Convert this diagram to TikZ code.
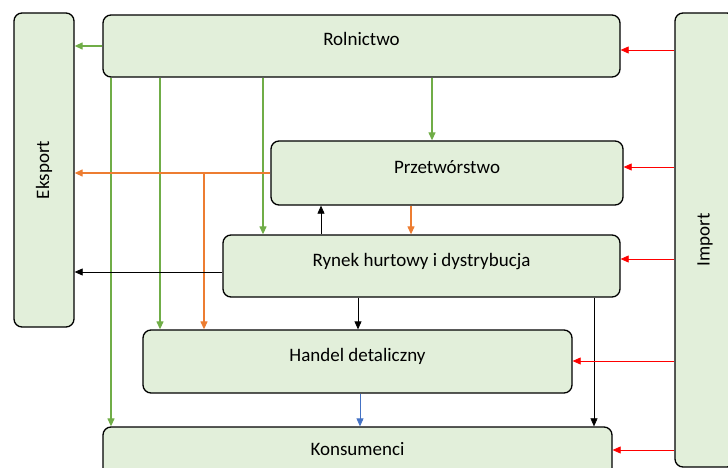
\documentclass[tikz,border=0pt]{standalone}
\usepackage{fontspec}
\setmainfont{Carlito}
\usepackage{tikz}
\usetikzlibrary{shapes,arrows.meta}
\definecolor{boxfill}{HTML}{E2EFDA}
\definecolor{agri}{HTML}{70AD47}
\definecolor{proc}{HTML}{ED7D31}
\definecolor{retail}{HTML}{4472C4}
\definecolor{impred}{HTML}{FF0000}
\tikzstyle{sector} = [rectangle, draw, fill=boxfill, line width=1.3pt, rounded corners=8pt, font=\fontsize{19}{22}\selectfont, text height=7pt, text depth=7pt]
\tikzstyle{trade} = [rectangle, draw, fill=boxfill, line width=1.3pt, rounded corners=8pt, font=\fontsize{19}{22}\selectfont, rotate=90]
\tikzstyle{agriflow} = [->, agri, line width=1.2pt]
\tikzstyle{procflow} = [->, proc, line width=1.2pt]
\tikzstyle{blackflow} = [->, black, line width=0.8pt]
\tikzstyle{retailflow} = [->, retail, line width=0.8pt]
\tikzstyle{importflow} = [->, impred, line width=0.8pt]

\begin{document}
\begin{tikzpicture}[x=1pt, y=-1pt, >={Triangle[length=8pt,width=7pt]}]
   \path[use as bounding box, clip] (0,0) rectangle (728,468);
   % nodes (eks and imp are turned: their south is the right side, north the left side)
   \node[trade, minimum width=314pt, minimum height=60pt] (eks) at (44,170)      {Eksport};
   \node[trade, minimum width=454pt, minimum height=60pt] (imp) at (705,240)     {Import};
   \node[sector, minimum width=517pt, minimum height=62pt] (rol) at (361.5,46)   {Rolnictwo};
   \node[sector, minimum width=352pt, minimum height=64pt] (prz) at (447,173)    {Przetwórstwo};
   \node[sector, minimum width=397pt, minimum height=62pt] (ryn) at (421.5,266)  {Rynek hurtowy i dystrybucja};
   \node[sector, minimum width=429pt, minimum height=63pt] (han) at (357.5,361.5){Handel detaliczny};
   \node[sector, minimum width=509pt, minimum height=56pt] (kon) at (357.5,455)  {Konsumenci};
   \coordinate (fork) at (prz.west -| 204,0);

   % edges
	\draw[agriflow] (rol.west) to (rol.west -| eks.south);
	\draw[agriflow] (rol.south -| 111,0) to (kon.north -| 111,0);
	\draw[agriflow] (rol.south -| 160,0) to (han.north -| 160,0);
	\draw[agriflow] (rol.south -| 263,0) to (ryn.north -| 263,0);
	\draw[agriflow] (rol.south -| 432,0) to (prz.north -| 432,0);
	\draw[procflow] (prz.west) to (prz.west -| eks.south);
	\draw[procflow] (fork) to (han.north -| fork);
	\draw[procflow] (prz.south -| 411,0) to (ryn.north -| 411,0);
	\draw[blackflow] (ryn.north -| 321,0) to (prz.south -| 321,0);
	\draw[blackflow] (ryn.west |- 0,272) to (eks.south |- 0,272);
	\draw[blackflow] (ryn.south -| 358,0) to (han.north -| 358,0);
	\draw[blackflow, line width=0.6pt] (ryn.south -| 594,0) to (kon.north -| 594,0);
	\draw[retailflow] (han.south -| 360,0) to (kon.north -| 360,0);
	\draw[importflow] (imp.north |- 0,50) to (rol.east |- 0,50);
	\draw[importflow] (imp.north |- 0,167) to (prz.east |- 0,167);
	\draw[importflow] (imp.north |- 0,259) to (ryn.east |- 0,259);
	\draw[importflow] (imp.north |- 0,361) to (han.east |- 0,361);
	\draw[importflow] (imp.north |- 0,450) to (kon.east |- 0,450);
  \end{tikzpicture}
\end{document}
